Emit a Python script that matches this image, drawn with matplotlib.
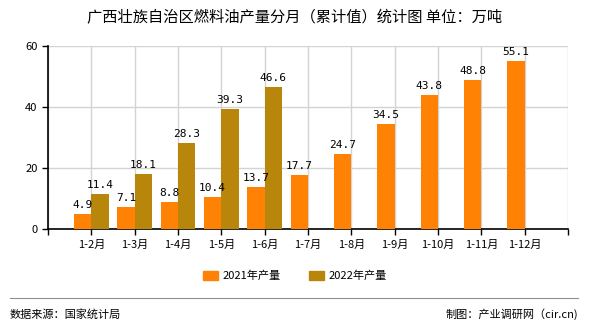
import numpy as np
import matplotlib
matplotlib.use("Agg")
from matplotlib import pyplot as plt
from matplotlib.patches import Patch
from matplotlib.lines import Line2D

plt.rcParams['font.family'] = ['Noto Sans CJK SC', 'DejaVu Sans']

months = ['1-2月', '1-3月', '1-4月', '1-5月', '1-6月', '1-7月',
          '1-8月', '1-9月', '1-10月', '1-11月', '1-12月']
y2021 = [4.9, 7.1, 8.8, 10.4, 13.7, 17.7, 24.7, 34.5, 43.8, 48.8, 55.1]
y2022 = [11.4, 18.1, 28.3, 39.3, 46.6]
series_names = ['2021年产量', '2022年产量']

c2021 = '#FF8205'
c2022 = '#B8860B'

fig = plt.figure(figsize=(5.9, 3.3), dpi=100)
ax = fig.add_axes([48 / 590, 1 - 229 / 330, 520 / 590, 183 / 330])

x = np.arange(1, len(months) + 1)
w = 0.4
ax.bar(x[:len(y2021)] - w / 2, y2021, width=w, color=c2021, zorder=3)
ax.bar(x[:len(y2022)] + w / 2, y2022, width=w, color=c2022, zorder=3)

for xi, v in zip(x, y2021):
    ax.text(xi - w / 2, v + 1.3, f'{v}', ha='center', va='bottom',
            fontsize=8, family='DejaVu Sans Mono', zorder=4)
for xi, v in zip(x, y2022):
    ax.text(xi + w / 2, v + 1.3, f'{v}', ha='center', va='bottom',
            fontsize=8, family='DejaVu Sans Mono', zorder=4)

ax.set_xlim(0, len(months) + 1)
ax.set_ylim(0, 60)
ax.set_yticks([0, 20, 40, 60])
ax.set_xticks(np.arange(0, len(months) + 2))
ax.set_xticklabels([''] + months + [''])
ax.tick_params(axis='both', labelsize=8, length=4, width=1, color='black')
ax.grid(True, color='#d3d3d3', linewidth=1, zorder=0)
for s in ['top', 'right']:
    ax.spines[s].set_visible(False)
ax.spines['left'].set_linewidth(1.2)
ax.spines['bottom'].set_linewidth(1.2)

fig.text(0.5, 1 - 18 / 330, '广西壮族自治区燃料油产量分月（累计值）统计图 单位：万吨',
         ha='center', va='center', fontsize=11)

handles = [Patch(color=c2021), Patch(color=c2022)]
fig.legend(handles, series_names, loc='center', bbox_to_anchor=(0.5, 1 - 276 / 330),
           ncol=2, frameon=False, fontsize=8, handlelength=1.4, handleheight=0.9,
           columnspacing=2.5, handletextpad=0.4)

fig.add_artist(Line2D([10 / 590, 578 / 590], [1 - 298 / 330, 1 - 298 / 330],
                      color='#909090', linewidth=0.8))
fig.text(10 / 590, 1 - 314 / 330, '数据来源：国家统计局', ha='left', va='center', fontsize=8)
fig.text(578 / 590, 1 - 314 / 330, '制图：产业调研网（cir.cn)', ha='right', va='center', fontsize=8)

fig.savefig('out.png', dpi=100)
